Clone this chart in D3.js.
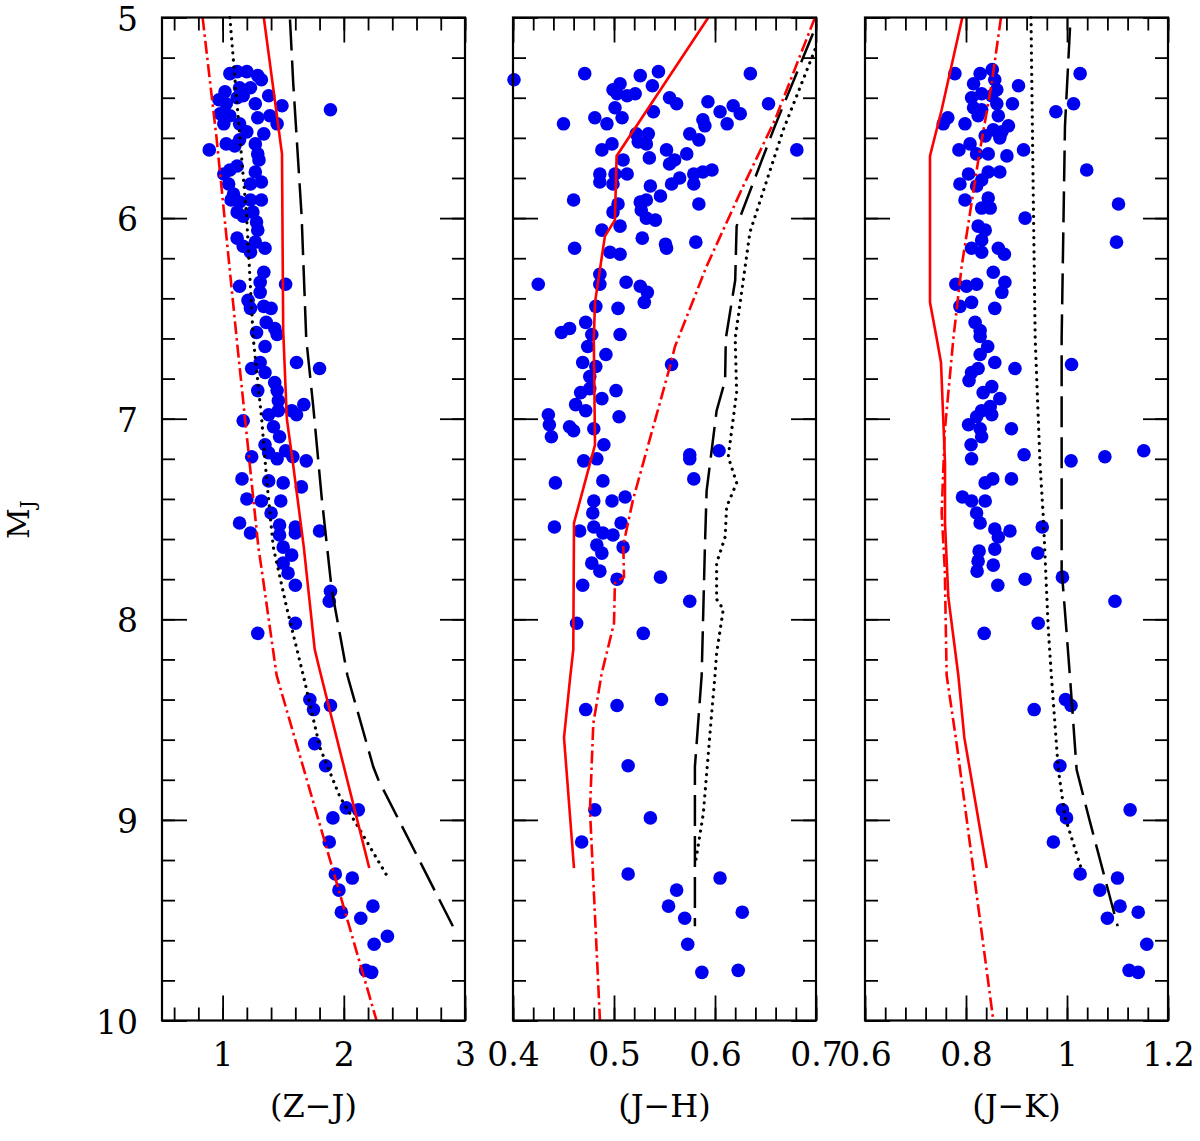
<!DOCTYPE html>
<html>
<head>
<meta charset="utf-8">
<title>M_J against colour</title>
<script src="https://d3js.org/d3.v7.min.js"></script>
<style>
  body { margin:0; background:#fff; }
  svg { display:block; }
  text { font-family:'DejaVu Serif', serif; fill:#000; }
</style>
</head>
<body>
<svg id="chart" width="1200" height="1141"></svg>
<script>
// ---- data: [colour, M_J] ----
const zjPts = [[1.06,5.28],[1.12,5.27],[1.20,5.27],[1.29,5.29],[1.32,5.31],[1.02,5.37],[1.14,5.35],[1.23,5.35],[1.38,5.39],[0.97,5.41],[1.03,5.43],[1.12,5.40],[1.17,5.39],[1.27,5.43],[1.49,5.44],[1.89,5.46],[0.98,5.48],[1.06,5.49],[1.29,5.50],[1.39,5.49],[1.45,5.53],[1.01,5.53],[1.14,5.53],[1.20,5.57],[1.34,5.58],[0.89,5.66],[1.03,5.63],[1.10,5.64],[1.14,5.61],[1.27,5.63],[1.29,5.68],[1.30,5.71],[1.01,5.78],[1.06,5.76],[1.12,5.74],[1.27,5.77],[1.32,5.82],[1.23,5.83],[1.05,5.83],[1.09,5.88],[1.07,5.91],[1.14,5.92],[1.23,5.91],[1.32,5.91],[1.12,5.97],[1.17,5.99],[1.25,5.97],[1.28,6.02],[1.29,6.06],[1.12,6.10],[1.17,6.14],[1.23,6.17],[1.27,6.12],[1.35,6.15],[1.34,6.27],[1.31,6.32],[1.14,6.34],[1.52,6.33],[1.31,6.37],[1.21,6.41],[1.23,6.45],[1.34,6.44],[1.40,6.45],[1.36,6.52],[1.43,6.55],[1.28,6.57],[1.45,6.58],[1.35,6.64],
  [1.31,6.72],[1.24,6.75],[1.61,6.72],[1.80,6.75],[1.35,6.77],[1.43,6.82],[1.29,6.86],[1.45,6.86],[1.46,6.91],[1.57,6.96],[1.67,6.93],[1.61,6.98],[1.38,6.98],[1.46,6.96],[1.17,7.01],[1.42,7.04],[1.47,7.09],[1.35,7.13],[1.38,7.17],[1.52,7.16],[1.45,7.20],[1.58,7.19],[1.69,7.21],[1.24,7.19],[1.16,7.30],[1.38,7.31],[1.50,7.32],[1.65,7.34],[1.20,7.40],[1.32,7.41],[1.48,7.41],[1.40,7.47],[1.14,7.52],[1.23,7.57],[1.47,7.53],[1.60,7.54],[1.47,7.58],[1.60,7.57],[1.80,7.56],[1.50,7.64],[1.57,7.68],[1.50,7.72],[1.54,7.77],[1.60,7.83],[1.89,7.86],[1.88,7.91],[1.60,8.02],[1.29,8.07],
  [1.72,8.40],[1.75,8.45],[1.89,8.43],[1.76,8.62],[1.85,8.73],[2.02,8.94],[2.12,8.95],[1.91,8.99],[1.88,9.11],[1.93,9.27],[2.07,9.29],[1.96,9.35],[2.24,9.43],[1.98,9.46],[2.14,9.49],[2.36,9.58],[2.25,9.62],[2.18,9.75],[2.23,9.76]];

const jhPts = [[0.401,5.31],[0.471,5.28],[0.526,5.29],[0.544,5.27],[0.538,5.34],[0.499,5.36],[0.506,5.33],[0.503,5.38],[0.513,5.39],[0.521,5.38],[0.555,5.40],[0.562,5.43],[0.593,5.42],[0.635,5.28],[0.653,5.43],[0.605,5.47],[0.618,5.44],[0.625,5.48],[0.612,5.53],[0.588,5.51],[0.590,5.54],[0.539,5.47],[0.501,5.45],[0.508,5.50],[0.481,5.50],[0.493,5.53],[0.450,5.53],[0.522,5.58],[0.534,5.58],[0.524,5.62],[0.532,5.63],[0.575,5.58],[0.584,5.61],[0.681,5.66],[0.488,5.66],[0.498,5.63],[0.509,5.71],[0.535,5.70],[0.552,5.66],[0.555,5.73],[0.560,5.71],[0.572,5.68],[0.486,5.78],[0.501,5.78],[0.513,5.78],[0.486,5.82],[0.499,5.83],[0.536,5.84],[0.546,5.89],[0.557,5.83],[0.565,5.80],[0.579,5.78],[0.579,5.83],[0.588,5.77],[0.597,5.76],[0.460,5.91],[0.526,5.92],[0.532,5.91],[0.504,5.93],[0.499,5.97],[0.527,5.96],[0.532,6.00],[0.541,6.01],[0.584,5.93],[0.506,6.04],[0.488,6.06],[0.528,6.10],[0.551,6.13],[0.552,6.15],[0.581,6.12],[0.461,6.15],[0.496,6.17],[0.506,6.18],[0.425,6.33],[0.486,6.28],[0.486,6.33],[0.512,6.32],[0.526,6.34],[0.533,6.37],[0.530,6.42],[0.482,6.44],[0.504,6.45],[0.448,6.57],[0.456,6.55],[0.472,6.52],[0.478,6.58],[0.506,6.58],
  [0.474,6.64],[0.492,6.68],[0.469,6.72],[0.482,6.74],[0.557,6.73],[0.476,6.79],[0.467,6.87],[0.476,6.85],[0.488,6.90],[0.502,6.86],[0.462,6.93],[0.472,6.96],[0.435,6.98],[0.505,6.99],[0.436,7.03],[0.438,7.09],[0.456,7.04],[0.460,7.06],[0.480,7.05],[0.490,7.13],[0.575,7.18],[0.575,7.20],[0.604,7.16],[0.470,7.21],[0.483,7.20],[0.579,7.30],[0.442,7.32],[0.489,7.31],[0.480,7.41],[0.498,7.41],[0.511,7.39],[0.479,7.47],[0.441,7.54],[0.466,7.56],[0.480,7.54],[0.507,7.52],[0.489,7.57],[0.499,7.58],[0.483,7.63],[0.509,7.64],[0.488,7.67],[0.478,7.72],[0.486,7.76],[0.503,7.80],[0.469,7.83],[0.546,7.79],[0.575,7.91],[0.463,8.02],[0.529,8.07],
  [0.472,8.45],[0.503,8.43],[0.547,8.40],[0.514,8.73],[0.481,8.95],[0.536,8.99],[0.468,9.11],[0.514,9.27],[0.605,9.29],[0.562,9.35],[0.554,9.43],[0.570,9.49],[0.627,9.46],[0.573,9.62],[0.587,9.76],[0.623,9.75]];

const jkPts = [[0.778,5.28],[0.828,5.28],[0.852,5.26],[0.857,5.31],[0.815,5.33],[0.861,5.36],[0.904,5.34],[0.831,5.38],[0.811,5.40],[0.851,5.39],[0.861,5.43],[0.892,5.43],[0.815,5.45],[0.831,5.46],[1.013,5.43],[1.026,5.28],[0.978,5.47],[0.755,5.53],[0.764,5.50],[0.798,5.53],[0.824,5.49],[0.864,5.49],[0.884,5.54],[0.871,5.57],[0.854,5.56],[0.867,5.60],[0.838,5.59],[0.808,5.63],[0.786,5.66],[0.821,5.68],[0.844,5.68],[0.881,5.69],[0.914,5.66],[0.867,5.77],[0.805,5.78],[0.831,5.81],[0.844,5.77],[0.788,5.83],[0.821,5.84],[1.039,5.76],[0.798,5.91],[0.844,5.90],[0.831,5.95],[0.848,5.95],[1.102,5.93],[0.917,6.00],[0.824,6.04],[0.838,6.06],[0.831,6.11],[0.811,6.15],[0.831,6.17],[0.864,6.15],[0.876,6.18],[1.098,6.12],[0.854,6.27],[0.877,6.32],[0.871,6.37],[0.780,6.33],[0.801,6.34],[0.821,6.33],[0.788,6.44],[0.811,6.42],[0.857,6.45],[0.818,6.52],[0.828,6.56],[0.828,6.59],[0.843,6.64],
  [0.828,6.68],[0.857,6.72],[0.897,6.75],[1.009,6.73],[0.824,6.75],[0.811,6.77],[0.806,6.81],[0.834,6.87],[0.851,6.84],[0.867,6.90],[0.848,6.94],[0.831,6.96],[0.851,6.98],[0.821,6.99],[0.805,7.03],[0.828,7.05],[0.831,7.09],[0.890,7.05],[0.810,7.13],[0.811,7.20],[0.915,7.18],[1.008,7.21],[1.075,7.19],[1.152,7.16],[0.838,7.32],[0.853,7.30],[0.890,7.30],[0.793,7.39],[0.811,7.41],[0.838,7.41],[0.821,7.47],[0.828,7.52],[0.857,7.55],[0.887,7.56],[0.864,7.59],[0.857,7.65],[0.951,7.54],[0.942,7.67],[0.826,7.66],[0.824,7.71],[0.822,7.76],[0.854,7.73],[0.863,7.83],[0.917,7.80],[0.991,7.79],[1.095,7.91],[0.943,8.02],[0.836,8.07],
  [0.935,8.45],[0.997,8.40],[1.008,8.43],[0.986,8.73],[0.991,8.95],[0.999,8.99],[1.125,8.95],[0.973,9.11],[1.026,9.27],[1.100,9.29],[1.065,9.35],[1.105,9.43],[1.141,9.46],[1.080,9.49],[1.158,9.62],[1.123,9.75],[1.141,9.76]];

// model sequences: red solid, red dash-dot, black dotted, black dashed
const zjSolid   = [[1.34,5.0],[1.49,5.68],[1.50,6.56],[1.53,7.0],[1.58,7.22],[1.67,7.64],[1.76,8.15],[1.80,8.25],[2.21,9.24]];
const zjDashDot = [[0.835,5.0],[0.95,5.6],[1.116,6.6],[1.185,7.0],[1.295,7.64],[1.322,7.75],[1.446,8.28],[2.27,10.0]];
const zjDotted  = [[1.06,5.0],[1.116,5.41],[1.198,5.99],[1.253,6.6],[1.322,7.0],[1.363,7.3],[1.418,7.64],[1.528,7.94],[1.666,8.28],[1.803,8.64],[1.968,8.885],[2.133,9.05],[2.353,9.275]];
const zjDashed  = [[1.556,5.01],[1.583,5.33],[1.652,5.99],[1.69,6.6],[1.748,6.94],[1.817,7.39],[1.90,7.85],[2.03,8.28],[2.243,8.735],[2.285,8.8],[2.9,9.53]];

const jhSolid   = [[0.5934,5.0],[0.5026,5.69],[0.5009,6.01],[0.491,6.09],[0.4812,6.42],[0.48,6.6],[0.4812,7.13],[0.4604,7.52],[0.4597,8.15],[0.4564,8.3],[0.4505,8.59],[0.4604,9.24]];
const jhDashDot = [[0.699,5.0],[0.6594,5.51],[0.628,5.84],[0.5917,6.24],[0.5604,6.64],[0.5554,6.74],[0.5207,7.37],[0.519,7.40],[0.5092,7.63],[0.5099,7.79],[0.5009,7.82],[0.5,8.02],[0.4878,8.27],[0.4795,8.52],[0.4762,8.95],[0.4861,10.0]];
const jhDotted  = [[0.699,5.16],[0.6676,5.56],[0.6346,6.07],[0.62,6.6],[0.6214,6.87],[0.6131,7.19],[0.6214,7.32],[0.6115,7.44],[0.61,7.59],[0.6016,7.72],[0.6016,7.9],[0.6082,7.95],[0.6016,8.17],[0.60,8.28],[0.5967,8.47],[0.5884,8.97],[0.5801,9.23]];
const jhDashed  = [[0.697,5.08],[0.6594,5.54],[0.6214,6.04],[0.62,6.31],[0.6107,6.6],[0.61,6.81],[0.6016,6.96],[0.5917,7.36],[0.59,7.64],[0.5868,8.28],[0.5801,8.735],[0.5801,9.53]];

const jkSolid   = [[0.7927,5.0],[0.7518,5.46],[0.7287,5.69],[0.7287,6.42],[0.742,6.6],[0.7505,6.72],[0.7584,7.22],[0.7584,7.52],[0.765,7.89],[0.7848,8.28],[0.7967,8.59],[0.841,9.24]];
const jkDashDot = [[0.8693,5.0],[0.8508,5.33],[0.8244,5.71],[0.7914,6.24],[0.775,6.6],[0.758,7.06],[0.7518,7.47],[0.758,7.75],[0.7617,8.28],[0.7815,8.62],[0.8541,10.0]];
const jkDotted  = [[0.9287,5.0],[0.9333,5.91],[0.937,6.6],[0.9465,7.22],[0.9531,7.49],[0.963,8.05],[0.969,8.28],[0.9828,8.75],[0.996,8.985],[1.029,9.25]];
const jkDashed  = [[1.006,5.05],[0.996,5.54],[0.9894,6.6],[0.9894,7.75],[0.9993,8.07],[1.006,8.29],[1.0191,8.75],[1.0455,9.01],[1.1003,9.53]];

// axes
const yTicks = [5, 6, 7, 8, 9, 10];
const zjTicks = [1, 2, 3];
const jhTicks = [0.4, 0.5, 0.6, 0.7];
const jkTicks = [0.6, 0.8, 1, 1.2];

const panels = [
  { title: '(Z\u2212J)', domain: [0.5, 3],   range: [162, 465],  minor: 0.2,  ticks: zjTicks, fmt: d3.format('d'),
    pts: zjPts, solid: zjSolid, dashdot: zjDashDot, dotted: zjDotted, dashed: zjDashed },
  { title: '(J\u2212H)', domain: [0.4, 0.7], range: [513, 816],  minor: 0.02, ticks: jhTicks, fmt: d3.format('.1f'),
    pts: jhPts, solid: jhSolid, dashdot: jhDashDot, dotted: jhDotted, dashed: jhDashed },
  { title: '(J\u2212K)', domain: [0.6, 1.2], range: [865, 1168], minor: 0.04, ticks: jkTicks, fmt: d => d3.format('.1f')(d).replace('.0', ''),
    pts: jkPts, solid: jkSolid, dashdot: jkDashDot, dotted: jkDotted, dashed: jkDashed }
];

const svg = d3.select('#chart');
const y = d3.scaleLinear().domain([5, 10]).range([17.5, 1020.5]);
const yTop = y(5), yBot = y(10);
const RED = '#ff0000', BLUE = '#0000f0';

// tick positions on multiples of the step inside [a, b]
function steps(a, b, s) {
  const i0 = Math.ceil(a / s - 1e-6), i1 = Math.floor(b / s + 1e-6);
  return d3.range(i0, i1 + 1).map(i => +(i * s).toFixed(4));
}
const yMinor = steps(5, 10, 0.2);

function tidy(sel) {
  sel.select('.domain').remove();
  sel.selectAll('line').attr('stroke', '#000').attr('stroke-width', 1.8);
  sel.attr('font-family', null).attr('font-size', null);
  sel.selectAll('text').style('font-size', '33px');
}

panels.forEach((p, i) => {
  const x = d3.scaleLinear().domain(p.domain).range(p.range);
  const g = svg.append('g');
  const xMinor = steps(p.domain[0], p.domain[1], p.minor);
  const left = p.range[0], right = p.range[1];

  // minor then major ticks, all pointing inwards on four sides
  [[xMinor, 13, ''], [p.ticks, 25, null]].forEach(([vals, len, f]) => {
    g.append('g').attr('transform', `translate(0,${yBot})`)
      .call(d3.axisBottom(x).tickValues(vals).tickSize(-len).tickPadding(22)
        .tickFormat(f === '' ? () => '' : p.fmt)).call(tidy);
    g.append('g').attr('transform', `translate(0,${yTop})`)
      .call(d3.axisTop(x).tickValues(vals).tickSize(-len).tickFormat(() => '')).call(tidy);
  });
  [[yMinor, 13, true], [yTicks, 25, false]].forEach(([vals, len, minor]) => {
    g.append('g').attr('transform', `translate(${left},0)`)
      .call(d3.axisLeft(y).tickValues(vals).tickSize(-len).tickPadding(24)
        .tickFormat(minor || i > 0 ? () => '' : d3.format('d'))).call(tidy)
      .selectAll('text').attr('dy', '0.38em');
    g.append('g').attr('transform', `translate(${right},0)`)
      .call(d3.axisRight(y).tickValues(vals).tickSize(-len).tickFormat(() => '')).call(tidy);
  });

  // points
  g.append('g').selectAll('circle')
    .data(p.pts)
    .join('circle')
    .attr('cx', d => x(d[0]))
    .attr('cy', d => y(d[1]))
    .attr('r', 6.8)
    .attr('fill', BLUE);

  // model lines
  const line = d3.line().x(d => x(d[0])).y(d => y(d[1]));
  const styles = [
    [p.dashed,  '#000', 2.5, '31,10', 'butt'],
    [p.dotted,  '#000', 3.2, '0.1,7', 'round'],
    [p.dashdot, RED,    2.6, '13,4,2.5,4', 'butt'],
    [p.solid,   RED,    2.6, null, 'butt']
  ];
  styles.forEach(([data, col, w, dash, cap]) => {
    g.append('path')
      .datum(data)
      .attr('d', line)
      .attr('fill', 'none')
      .attr('stroke', col)
      .attr('stroke-width', w)
      .attr('stroke-dasharray', dash)
      .attr('stroke-linecap', cap);
  });

  // frame
  g.append('rect')
    .attr('x', left).attr('y', yTop)
    .attr('width', right - left).attr('height', yBot - yTop)
    .attr('fill', 'none').attr('stroke', '#000').attr('stroke-width', 2.2);

  // axis title
  g.append('text')
    .attr('x', (left + right) / 2)
    .attr('y', 1117)
    .attr('text-anchor', 'middle')
    .style('font-size', '32px')
    .text(p.title);
});

// y axis label: M_J
const yl = svg.append('text')
  .attr('transform', 'translate(29,539) rotate(-90)')
  .style('font-size', '30px');
yl.append('tspan').text('M');
yl.append('tspan').attr('baseline-shift', '-30%').style('font-size', '20px').text('J');
</script>
</body>
</html>
